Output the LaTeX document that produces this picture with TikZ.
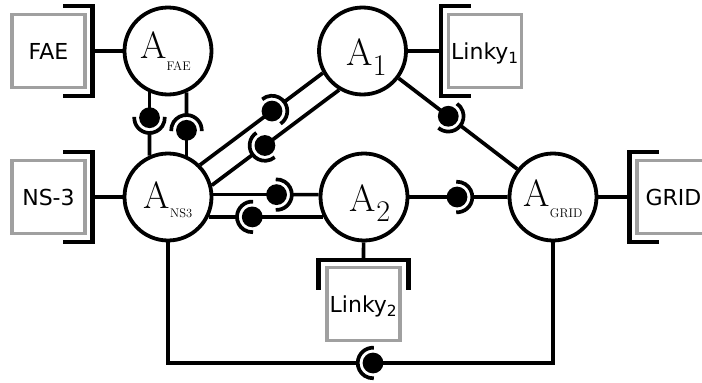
\documentclass[tikz,border=0pt]{standalone}
\usepackage{fontspec}
\newfontfamily\dejavu{DejaVu Sans}
\usetikzlibrary{calc}
\definecolor{boxgray}{HTML}{A0A0A0}
\newcommand\Abig{\fontsize{38}{38}\selectfont A}
\newcommand\subcap[2]{\raisebox{#1}{\fontsize{12.5}{12.5}\selectfont #2}}
\newcommand\subnum[2]{\raisebox{#1}{\fontsize{30}{30}\selectfont #2}}
% ball-and-socket connector: socket faces #2
\newcommand\lolli[3]{%
  \path (#1) -- (#2) coordinate[pos=#3] (lb);
  \draw[conn] (#1) -- (lb);
  \draw[conn] let \p1=($(#2)-(lb)$), \n1={atan2(\y1,\x1)} in
     ($(lb)+(\n1:15.3pt)$) -- (#2)
     ($(lb)+(\n1-93:15.3pt)$) arc[start angle=\n1-93, end angle=\n1+93, radius=15.3pt];
  \fill (lb) circle[radius=10.4pt];
}
\begin{document}
\begin{tikzpicture}[x=1pt,y=1pt,
  agent/.style={circle, draw, line width=3.8pt, minimum size=87pt, inner sep=0pt},
  ext/.style={rectangle, draw=boxgray, line width=3.8pt, minimum size=73pt, inner sep=0pt,
    font=\dejavu\fontsize{22}{22}\selectfont, text height=16pt, text depth=0pt},
  conn/.style={line width=3.7pt},
  brk/.style={line width=4.5pt, line join=miter}]
\useasboundingbox (0,0) rectangle (702,-383);

% agents
\node[agent, text height=26pt, text depth=12pt] (fae) at (168,-51) {\Abig\subcap{-12pt}{FAE}\hspace*{5pt}};
\node[agent, text height=30pt, text depth=2pt] (a1) at (362.5,-51) {\hspace*{8pt}\Abig\subnum{-10pt}{1}};
\node[agent, text height=30pt, text depth=8pt] (ns3) at (168,-197) {\Abig\subcap{-9pt}{NS3}};
\node[agent, text height=30pt, text depth=2pt] (a2) at (364,-197) {\hspace*{12pt}\Abig\subnum{-10pt}{2}};
\node[agent, text height=28pt, text depth=10pt] (grid) at (553,-197) {\Abig\subcap{-11pt}{GRID}};

% external boxes
\node[ext] (bfae) at (48.5,-51) {FAE};
\node[ext] (bns3) at (48.5,-197) {NS-3};
\node[ext] (blinky1) at (485,-51) {Linky\textsubscript{1}};
\node[ext] (bgrid) at (673.5,-197) {GRID};
\node[ext] (blinky2) at (363.5,-304) {Linky\textsubscript{2}};

% brackets
\draw[brk, shift={(bfae.center)}] (14.5,45) -- (44,45) -- (44,-45) -- (14.5,-45);
\draw[brk, shift={(bns3.center)}] (14.5,45) -- (44,45) -- (44,-45) -- (14.5,-45);
\draw[brk, shift={(blinky1.center)}, rotate=180] (14.5,45) -- (44,45) -- (44,-45) -- (14.5,-45);
\draw[brk, shift={(bgrid.center)}, rotate=180] (14.5,45) -- (44,45) -- (44,-45) -- (14.5,-45);
\draw[brk, shift={(blinky2.center)}, rotate=90] (14.5,45) -- (44,45) -- (44,-45) -- (14.5,-45);

% bracket to agent
\draw[conn] ([xshift=44pt]bfae.center) -- (fae);
\draw[conn] ([xshift=44pt]bns3.center) -- (ns3);
\draw[conn] ([xshift=-44pt]blinky1.center) -- (a1);
\draw[conn] ([xshift=-44pt]bgrid.center) -- (grid);
\draw[conn] ([yshift=44pt]blinky2.center) -- (a2);

% agent to agent connectors
\lolli{fae.-114}{ns3.114}{0.40}
\lolli{ns3.66}{fae.-66}{0.40}
\lolli{ns3.45}{a1.209}{0.586}
\lolli{a1.239}{ns3.15}{0.583}
\lolli{ns3.3}{a2.177}{0.60}
\lolli{a2.206}{ns3.-26}{0.62}
\lolli{a2.east}{grid.west}{0.485}
\lolli{a1.-37.5}{grid.142.5}{0.418}

% bottom connector
\coordinate (bottomline) at (0,-363);
\coordinate (c1) at (ns3.south |- bottomline);
\coordinate (c2) at (grid.south |- bottomline);
\draw[conn, line cap=rect] (ns3.south) -- (c1);
\draw[conn, line cap=rect] (grid.south) -- (c2);
\lolli{c2}{c1}{0.4675}
\end{tikzpicture}
\end{document}
